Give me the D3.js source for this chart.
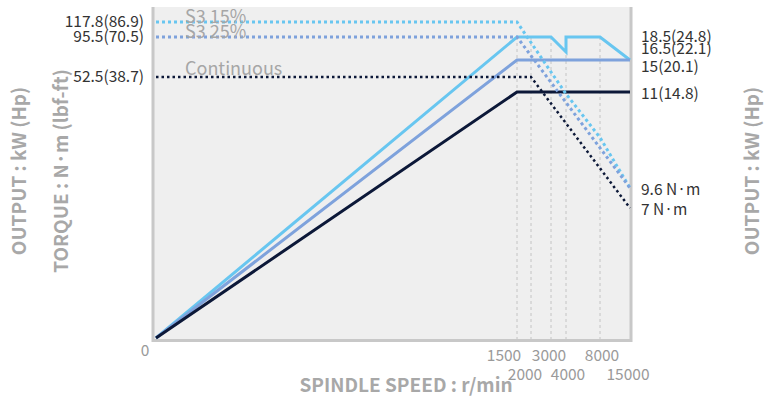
<!DOCTYPE html>
<html>
<head>
<meta charset="utf-8">
<script src="https://cdn.jsdelivr.net/npm/d3@7/dist/d3.min.js"></script>
<style>
  html, body { margin: 0; padding: 0; background: #ffffff; }
  svg { display: block; }
  text { font-family: "Noto Sans CJK KR", "Noto Sans", sans-serif; }
</style>
</head>
<body>
<div id="chart"></div>
<script>
// ---------------- DATA ----------------
const seriesNames = ["S3 15%", "S3 25%", "Continuous"];

// Output (kW) vs spindle speed (r/min)
const powerS315 = [[0, 0], [1500, 18.5], [3000, 18.5], [4000, 16.5], [4000, 18.5], [8000, 18.5], [15000, 15]];
const powerS325 = [[0, 0], [1500, 15], [15000, 15]];
const powerCont = [[0, 0], [1500, 11], [15000, 11]];

// Torque (N·m) vs spindle speed (r/min)
const torqueS315 = [[0, 117.8], [1500, 117.8], [3000, 57.9], [4000, 46], [8000, 29.1], [15000, 9.6]];
const torqueS325 = [[0, 95.5], [1500, 95.5], [15000, 9.6]];
const torqueCont = [[0, 52.5], [2000, 52.5], [15000, 7]];

// Axis ticks
const speedTicks = [0, 1500, 2000, 3000, 4000, 8000, 15000];
const speedTickLabels = ["0", "1500", "2000", "3000", "4000", "8000", "15000"];
const gridSpeeds = [1500, 2000, 3000, 4000, 8000];

const torqueTickValues = [117.8, 95.5, 52.5];
const torqueTickLabels = ["117.8(86.9)", "95.5(70.5)", "52.5(38.7)"];
const powerTickValues = [18.5, 16.5, 15, 11];
const powerTickLabels = ["18.5(24.8)", "16.5(22.1)", "15(20.1)", "11(14.8)"];
const torqueEndValues = [9.6, 7];
const torqueEndLabels = ["9.6 N·m", "7 N·m"];

// ---------------- LAYOUT / STYLE ----------------
const W = 775, H = 396;
const colors = ["#68c6f0", "#7ea2dc", "#0c1838"];
const plot = { left: 153, right: 631, top: 7, bottom: 340 };

// schematic (piecewise) scales as drawn in the original
const x = d3.scaleLinear()
  .domain([0, 1500, 2000, 3000, 4000, 8000, 15000])
  .range([156, 517, 531, 551, 566, 600, 630]);
const yPower = d3.scaleLinear()
  .domain([0, 11, 15, 16.5, 18.5])
  .range([338, 92, 60, 52, 37]);
const yTorque = d3.scaleLinear()
  .domain([0, 7, 9.6, 52.5, 95.5, 117.8])
  .range([338, 208, 188, 77, 37, 22]);

const svg = d3.select("#chart").append("svg")
  .attr("width", W).attr("height", H);

// plot background
svg.append("rect")
  .attr("x", plot.left).attr("y", plot.top)
  .attr("width", plot.right - plot.left).attr("height", plot.bottom - plot.top)
  .attr("fill", "#efefef");

// vertical dashed gridlines
svg.append("g").selectAll("line").data(gridSpeeds).join("line")
  .attr("x1", d => x(d)).attr("x2", d => x(d))
  .attr("y1", yPower(18.5)).attr("y2", plot.bottom)
  .attr("stroke", "#c4c4c4").attr("stroke-width", 1)
  .attr("stroke-dasharray", "3 3");

// frame: left, bottom, right
const frame = svg.append("g").attr("stroke", "#c8c8c8").attr("stroke-width", 3).attr("fill", "none");
frame.append("path")
  .attr("d", `M${plot.left},${plot.top}V${plot.bottom + 0.5}H${plot.right}V${plot.top}`);

// power (solid) lines
const powerLine = d3.line().x(d => x(d[0])).y(d => yPower(d[1]));
const powerSeries = [powerS315, powerS325, powerCont];
svg.append("g").selectAll("path").data(powerSeries).join("path")
  .attr("d", d => powerLine(d))
  .attr("fill", "none")
  .attr("stroke", (d, i) => colors[i])
  .attr("stroke-width", 3)
  .attr("stroke-linejoin", "miter");

// torque (dotted) lines
const torqueLine = d3.line().x(d => x(d[0])).y(d => yTorque(d[1]));
const torqueSeries = [torqueS315, torqueS325, torqueCont];
svg.append("g").selectAll("path").data(torqueSeries).join("path")
  .attr("d", d => torqueLine(d))
  .attr("fill", "none")
  .attr("stroke", (d, i) => colors[i])
  .attr("stroke-width", (d, i) => i === 2 ? 2.5 : 3)
  .attr("stroke-dasharray", (d, i) => i === 2 ? "2.5 3" : "3 3");

// series labels on the torque lines
const seriesLabelDy = [1, 1, -2];
svg.append("g").selectAll("text").data(seriesNames).join("text")
  .attr("x", 185)
  .attr("y", (d, i) => yTorque(torqueSeries[i][0][1]) + seriesLabelDy[i])
  .attr("font-size", 18)
  .attr("fill", "#a6a6a6")
  .text(d => d);

// left torque value labels
svg.append("g").selectAll("text").data(torqueTickValues).join("text")
  .attr("x", 144)
  .attr("y", d => yTorque(d))
  .attr("dy", "0.35em")
  .attr("text-anchor", "end")
  .attr("font-size", 15.5)
  .attr("fill", "#333")
  .text((d, i) => torqueTickLabels[i]);

// right power value labels
const powerLabelShift = [0, -3.5, 7, 2];
svg.append("g").selectAll("text").data(powerTickValues).join("text")
  .attr("x", 641)
  .attr("y", (d, i) => yPower(d) + powerLabelShift[i])
  .attr("dy", "0.35em")
  .attr("font-size", 15.5)
  .attr("fill", "#333")
  .text((d, i) => powerTickLabels[i]);

// right torque end labels
svg.append("g").selectAll("text").data(torqueEndValues).join("text")
  .attr("x", 641)
  .attr("y", d => yTorque(d) + 2)
  .attr("dy", "0.35em")
  .attr("font-size", 15.5)
  .attr("fill", "#333")
  .text((d, i) => torqueEndLabels[i]);

// x tick labels (two staggered rows)
const tickDx = [-11, -13, -6, -2, 2, 2, -2];
svg.append("g").selectAll("text").data(speedTicks).join("text")
  .attr("x", (d, i) => x(d) + tickDx[i])
  .attr("y", (d, i) => i === 0 ? 356 : (i % 2 === 1 ? 361 : 380))
  .attr("text-anchor", "middle")
  .attr("font-size", 15.5)
  .attr("fill", "#9a9a9a")
  .text((d, i) => speedTickLabels[i]);

// axis titles
svg.append("text")
  .attr("x", 406).attr("y", 392)
  .attr("text-anchor", "middle")
  .attr("font-size", 19).attr("font-weight", "bold")
  .attr("fill", "#a8a8a8")
  .text("SPINDLE SPEED : r/min");

const vTitles = [
  { t: "OUTPUT : kW (Hp)", cx: 19 },
  { t: "TORQUE : N·m (lbf-ft)", cx: 61 },
  { t: "OUTPUT : kW (Hp)", cx: 752 }
];
svg.append("g").selectAll("text").data(vTitles).join("text")
  .attr("transform", d => `translate(${d.cx},171) rotate(-90)`)
  .attr("dy", "0.35em")
  .attr("text-anchor", "middle")
  .attr("font-size", 19).attr("font-weight", "bold")
  .attr("fill", "#a8a8a8")
  .text(d => d.t);
</script>
</body>
</html>
